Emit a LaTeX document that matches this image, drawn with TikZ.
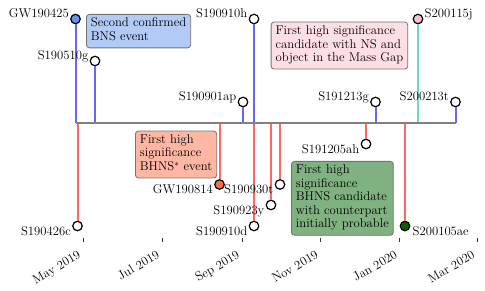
\documentclass[tikz,border=0pt]{standalone}
\usepackage{xcolor}
\usepackage{tikz}

\definecolor{stemblue}{RGB}{102,102,255}
\definecolor{stemred}{RGB}{255,102,102}
\definecolor{stemcyan}{RGB}{102,216,216}
\definecolor{bnsblue}{RGB}{100,149,237}
\definecolor{bhnsorange}{RGB}{255,110,70}
\definecolor{gappink}{RGB}{255,192,203}
\definecolor{bhnsgreen}{RGB}{0,100,0}

\begin{document}
\begin{tikzpicture}[
    x=1pt, y=1pt,
    font=\fontsize{12.7}{13.5}\selectfont,
    ev/.style={
        circle,
        draw=black,
        line width=1.2pt,
        fill=white,
        minimum size=9.5pt,
        inner sep=0pt
    },
    stemup/.style={
        draw=stemblue,
        line width=2pt
    },
    stemdown/.style={
        draw=stemred,
        line width=2pt
    },
    timeline/.style={
        draw=black!50,
        line width=2pt
    },
    lblup/.style={
        inner sep=0pt,
        anchor=base east,
        xshift=-6.5pt,
        yshift=1.5pt
    },
    lbldown/.style={
        inner sep=0pt,
        anchor=base east,
        xshift=-6.5pt,
        yshift=-9.5pt
    },
    notebox/.style={
        draw=black!55,
        line width=0.8pt,
        rounded corners=3pt,
        align=left,
        inner xsep=4.5pt,
        inner ysep=3.5pt,
        anchor=north west,
        execute at begin node=\strut,
        execute at end node=\strut
    },
    mtick/.style={
        draw=black!80,
        line width=0.8pt
    },
    month/.style={
        inner sep=0pt,
        anchor=base east,
        xshift=-1.5pt,
        yshift=-19.5pt,
        rotate=30
    }
]

\useasboundingbox (0,-168) rectangle (485,123);

%-------------------------------------------------
% Timeline anchors
%-------------------------------------------------

\coordinate (t190425) at (75.5,0);
\coordinate (t190426) at (77.5,0);
\coordinate (t190510) at (95,0);
\coordinate (t190814) at (219.5,0);
\coordinate (t190901) at (243,0);
\coordinate (t190910) at (254,0);
\coordinate (t190923) at (271,0);
\coordinate (t190930) at (280,0);
\coordinate (t191205) at (366,0);
\coordinate (t191213) at (375.5,0);
\coordinate (t200105) at (405,0);
\coordinate (t200115) at (418,0);
\coordinate (t200213) at (455.5,0);

%-------------------------------------------------
% Events above the timeline
%-------------------------------------------------

\node[ev,fill=bnsblue] (gw190425) at (75.5,104) {};
\node[ev] (s190510g) at (95,62) {};
\node[ev] (s190901ap) at (243,21) {};
\node[ev] (s190910h) at (254,104) {};
\node[ev] (s191213g) at (375.5,21) {};
\node[ev,fill=gappink] (s200115j) at (418,104) {};
\node[ev] (s200213t) at (455.5,21) {};

\draw[stemup] (t190425)--(gw190425);
\draw[stemup] (t190510)--(s190510g);
\draw[stemup] (t190901)--(s190901ap);
\draw[stemup] (t190910)--(s190910h);
\draw[stemup] (t191213)--(s191213g);
\draw[stemup,draw=stemcyan] (t200115)--(s200115j);
\draw[stemup] (t200213)--(s200213t);

\node[lblup] (l190425) at (gw190425.center) {GW190425};
\node[lblup] (l190510) at (s190510g.center) {S190510g};
\node[lblup] (l190901) at (s190901ap.center) {S190901ap};
\node[lblup] (l190910h) at (s190910h.center) {S190910h};
\node[lblup] (l191213) at (s191213g.center) {S191213g};
\node[lblup,anchor=base west,xshift=13pt] (l200115) at (s200115j.center) {S200115j};
\node[lblup] (l200213) at (s200213t.center) {S200213t};

%-------------------------------------------------
% Events below the timeline
%-------------------------------------------------

\node[ev] (s190426c) at (77.5,-103) {};
\node[ev,fill=bhnsorange] (gw190814) at (219.5,-61.5) {};
\node[ev] (s190910d) at (254,-103) {};
\node[ev] (s190923y) at (271,-82) {};
\node[ev] (s190930t) at (280,-61.5) {};
\node[ev] (s191205ah) at (366,-21) {};
\node[ev,fill=bhnsgreen] (s200105ae) at (405,-103) {};

\draw[stemdown] (t190426)--(s190426c);
\draw[stemdown] (t190814)--(gw190814);
\draw[stemdown] (t190910)--(s190910d);
\draw[stemdown] (t190923)--(s190923y);
\draw[stemdown] (t190930)--(s190930t);
\draw[stemdown] (t191205)--(s191205ah);
\draw[stemdown] (t200105)--(s200105ae);

\node[lbldown] (l190426) at (s190426c.center) {S190426c};
\node[lbldown] (l190814) at (gw190814.center) {GW190814};
\node[lbldown] (l190910d) at (s190910d.center) {S190910d};
\node[lbldown] (l190923) at (s190923y.center) {S190923y};
\node[lbldown] (l190930) at (s190930t.center) {S190930t};
\node[lbldown] (l191205) at (s191205ah.center) {S191205ah};
\node[lbldown,anchor=base west,xshift=14pt] (l200105) at (s200105ae.center) {S200105ae};

\draw[timeline] (t190425)--(t200213);

%-------------------------------------------------
% Notes
%-------------------------------------------------

\node[notebox,fill=bnsblue!50] (nbns) at (86,109)
{Second confirmed\\BNS event};
\node[notebox,fill=gappink!50] (ngap) at (270.7,101.3)
{First high significance\\candidate with NS and\\object in the Mass Gap};
\node[notebox,fill=bhnsorange!50] (nbhns) at (135,-7.7)
{First high\\significance\\BHNS$^*$ event};
\node[notebox,fill=bhnsgreen!50] (ncp) at (291,-38)
{First high\\significance\\BHNS candidate\\with counterpart\\initially probable};

%-------------------------------------------------
% Date axis
%-------------------------------------------------

\coordinate (may) at (83,-115);
\coordinate (jul) at (162,-115);
\coordinate (sep) at (242,-115);
\coordinate (nov) at (320.7,-115);
\coordinate (jan) at (399.7,-115);
\coordinate (mar) at (477.3,-115);

\draw[mtick] (may)--++(0,-4.5);
\draw[mtick] (jul)--++(0,-4.5);
\draw[mtick] (sep)--++(0,-4.5);
\draw[mtick] (nov)--++(0,-4.5);
\draw[mtick] (jan)--++(0,-4.5);
\draw[mtick] (mar)--++(0,-4.5);

\node[month] (lmay) at (may) {May 2019};
\node[month] (ljul) at (jul) {Jul 2019};
\node[month] (lsep) at (sep) {Sep 2019};
\node[month] (lnov) at (nov) {Nov 2019};
\node[month] (ljan) at (jan) {Jan 2020};
\node[month] (lmar) at (mar) {Mar 2020};

\end{tikzpicture}
\end{document}
